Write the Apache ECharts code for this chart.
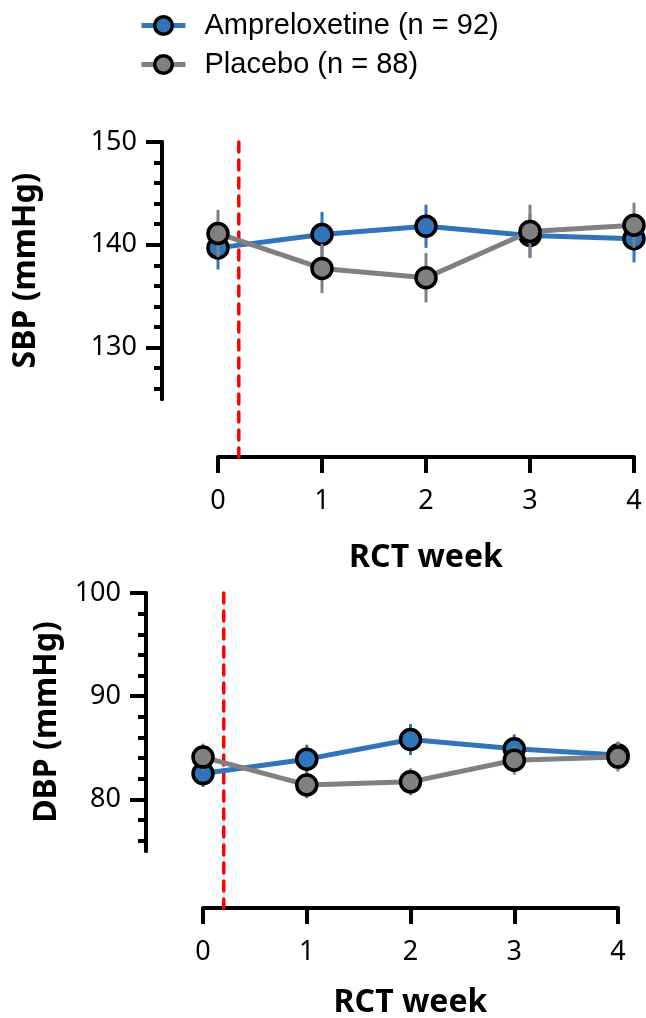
<!DOCTYPE html>
<html><head><meta charset="utf-8">
<script src="https://cdn.jsdelivr.net/npm/echarts@6/dist/echarts.min.js"></script>
<style>html,body{margin:0;padding:0;background:#fff}#c{width:646px;height:1018px}</style>
</head><body><div id="c"></div>
<script>
const weeks = [0, 1, 2, 3, 4];
const sbpAmp = [139.7, 141.0, 141.8, 140.9, 140.6];
const sbpAmpSem = [2.1, 2.2, 2.1, 2.1, 2.3];
const sbpPla = [141.1, 137.7, 136.8, 141.3, 141.9];
const sbpPlaSem = [2.3, 2.4, 2.4, 2.6, 2.2];
const dbpAmp = [82.5, 83.9, 85.8, 84.9, 84.3];
const dbpAmpSem = [1.3, 1.4, 1.5, 1.4, 1.3];
const dbpPla = [84.1, 81.4, 81.7, 83.8, 84.1];
const dbpPlaSem = [1.3, 1.3, 1.3, 1.4, 1.4];
const sbpLabelTicks = [130, 140, 150];
const sbpMinorTicks = [126, 128, 130, 132, 134, 136, 138, 140, 142, 144, 146, 148, 150];
const dbpLabelTicks = [80, 90, 100];
const dbpMinorTicks = [76, 78, 80, 82, 84, 86, 88, 90, 92, 94, 96, 98, 100];
const dividerWeek = 0.2;
const ampName = 'Ampreloxetine (n = 92)';
const plaName = 'Placebo (n = 88)';

const BLUE = '#3074BA', GRAY = '#808080';
const AX_FONT = 'Noto Sans';
const panels = [
  {grid: {left: 218, top: 142, width: 416, height: 257, outerBoundsMode: 'none', containLabel: false}, yOff: 56, xOff: 58, min: 125, max: 150,
   name: 'SBP (mmHg)', labels: sbpLabelTicks, minor: sbpMinorTicks, amp: sbpAmp, ampE: sbpAmpSem, pla: sbpPla, plaE: sbpPlaSem, nameGap: 120, xNameGap: 85},
  {grid: {left: 203, top: 593, width: 415, height: 258, outerBoundsMode: 'none', containLabel: false}, yOff: 57, xOff: 57, min: 75, max: 100,
   name: 'DBP (mmHg)', labels: dbpLabelTicks, minor: dbpMinorTicks, amp: dbpAmp, ampE: dbpAmpSem, pla: dbpPla, plaE: dbpPlaSem, nameGap: 83, xNameGap: 79}
];

const grids = [], xAxes = [], yAxes = [], series = [];
panels.forEach((p, i) => {
  grids.push(p.grid);
  xAxes.push({
    gridIndex: i, type: 'value', min: 0, max: 4, interval: 1, offset: p.xOff,
    axisLine: {onZero: false, lineStyle: {color: '#000', width: 4}},
    axisTick: {length: 16, lineStyle: {color: '#000', width: 4}},
    axisLabel: {margin: 31, color: '#000', fontSize: 27, fontFamily: AX_FONT},
    splitLine: {show: false},
    name: 'RCT week', nameLocation: 'middle', nameGap: p.xNameGap,
    nameTextStyle: {color: '#000', fontSize: 32, fontWeight: 'bold', fontFamily: AX_FONT}
  });
  yAxes.push({
    gridIndex: i, type: 'value', min: p.min, max: p.max, position: 'left', offset: p.yOff,
    axisLine: {show: true, onZero: false, lineStyle: {color: '#000', width: 4}},
    axisTick: {show: true, length: 16, lineStyle: {color: '#000', width: 4}, customValues: p.labels},
    axisLabel: {margin: 25, color: '#000', fontSize: 27, fontFamily: AX_FONT, customValues: p.labels},
    splitLine: {show: false},
    name: p.name, nameLocation: 'middle', nameGap: p.nameGap, nameRotate: 90,
    nameTextStyle: {color: '#000', fontSize: 32, fontWeight: 'bold', fontFamily: AX_FONT}
  });
  yAxes.push({
    gridIndex: i, type: 'value', min: p.min, max: p.max, position: 'left', offset: p.yOff,
    axisLine: {show: true, onZero: false, lineStyle: {color: '#000', width: 4}},
    axisTick: {show: true, length: 8, lineStyle: {color: '#000', width: 4}, customValues: p.minor},
    axisLabel: {show: false},
    splitLine: {show: false}
  });
  const yIdx = i * 2;
  series.push({
    type: 'custom', xAxisIndex: i, yAxisIndex: yIdx, silent: true, z: 1,
    data: [[dividerWeek, p.max]],
    renderItem: (params, api) => {
      const top = api.coord([api.value(0), p.max]);
      const bot = api.coord([api.value(0), p.min]);
      return {type: 'line', shape: {x1: top[0], y1: top[1], x2: bot[0], y2: bot[1] + p.xOff},
        style: {stroke: '#FF0000', lineWidth: 3.5, lineDash: [10, 8], lineCap: 'round'}};
    }
  });
  const errSeries = (vals, errs, color, z) => ({
    type: 'custom', xAxisIndex: i, yAxisIndex: yIdx, silent: true, z: z,
    data: weeks.map((w, k) => [w, vals[k] - errs[k], vals[k] + errs[k]]),
    renderItem: (params, api) => {
      const a = api.coord([api.value(0), api.value(1)]);
      const b = api.coord([api.value(0), api.value(2)]);
      return {type: 'line', shape: {x1: a[0], y1: a[1], x2: b[0], y2: b[1]},
        style: {stroke: color, lineWidth: 3}};
    }
  });
  const lineSeries = (name, vals, color, z) => ({
    type: 'line', name: name, xAxisIndex: i, yAxisIndex: yIdx, z: z,
    data: weeks.map((w, k) => [w, vals[k]]),
    symbol: 'circle', symbolSize: 20, showSymbol: true,
    lineStyle: {color: color, width: 5},
    itemStyle: {color: color, borderColor: '#000', borderWidth: 3.5},
    emphasis: {disabled: true}
  });
  series.push(errSeries(p.amp, p.ampE, BLUE, 2));
  series.push(lineSeries(ampName, p.amp, BLUE, 3));
  series.push(errSeries(p.pla, p.plaE, GRAY, 4));
  series.push(lineSeries(plaName, p.pla, GRAY, 5));
});

const chart = echarts.init(document.getElementById('c'), null, {renderer: 'canvas'});
chart.setOption({
  animation: false,
  backgroundColor: '#fff',
  legend: {
    data: [ampName, plaName], orient: 'vertical', left: 139, top: 11, padding: 0,
    itemWidth: 44, itemHeight: 22, itemGap: 10, selectedMode: false,
    lineStyle: {width: 5},
    itemStyle: {borderWidth: 3.5, borderColor: '#000'},
    textStyle: {fontFamily: 'Liberation Sans', fontSize: 29, color: '#000', padding: [0, 0, 0, 14]}
  },
  grid: grids, xAxis: xAxes, yAxis: yAxes, series: series
});
</script></body></html>
